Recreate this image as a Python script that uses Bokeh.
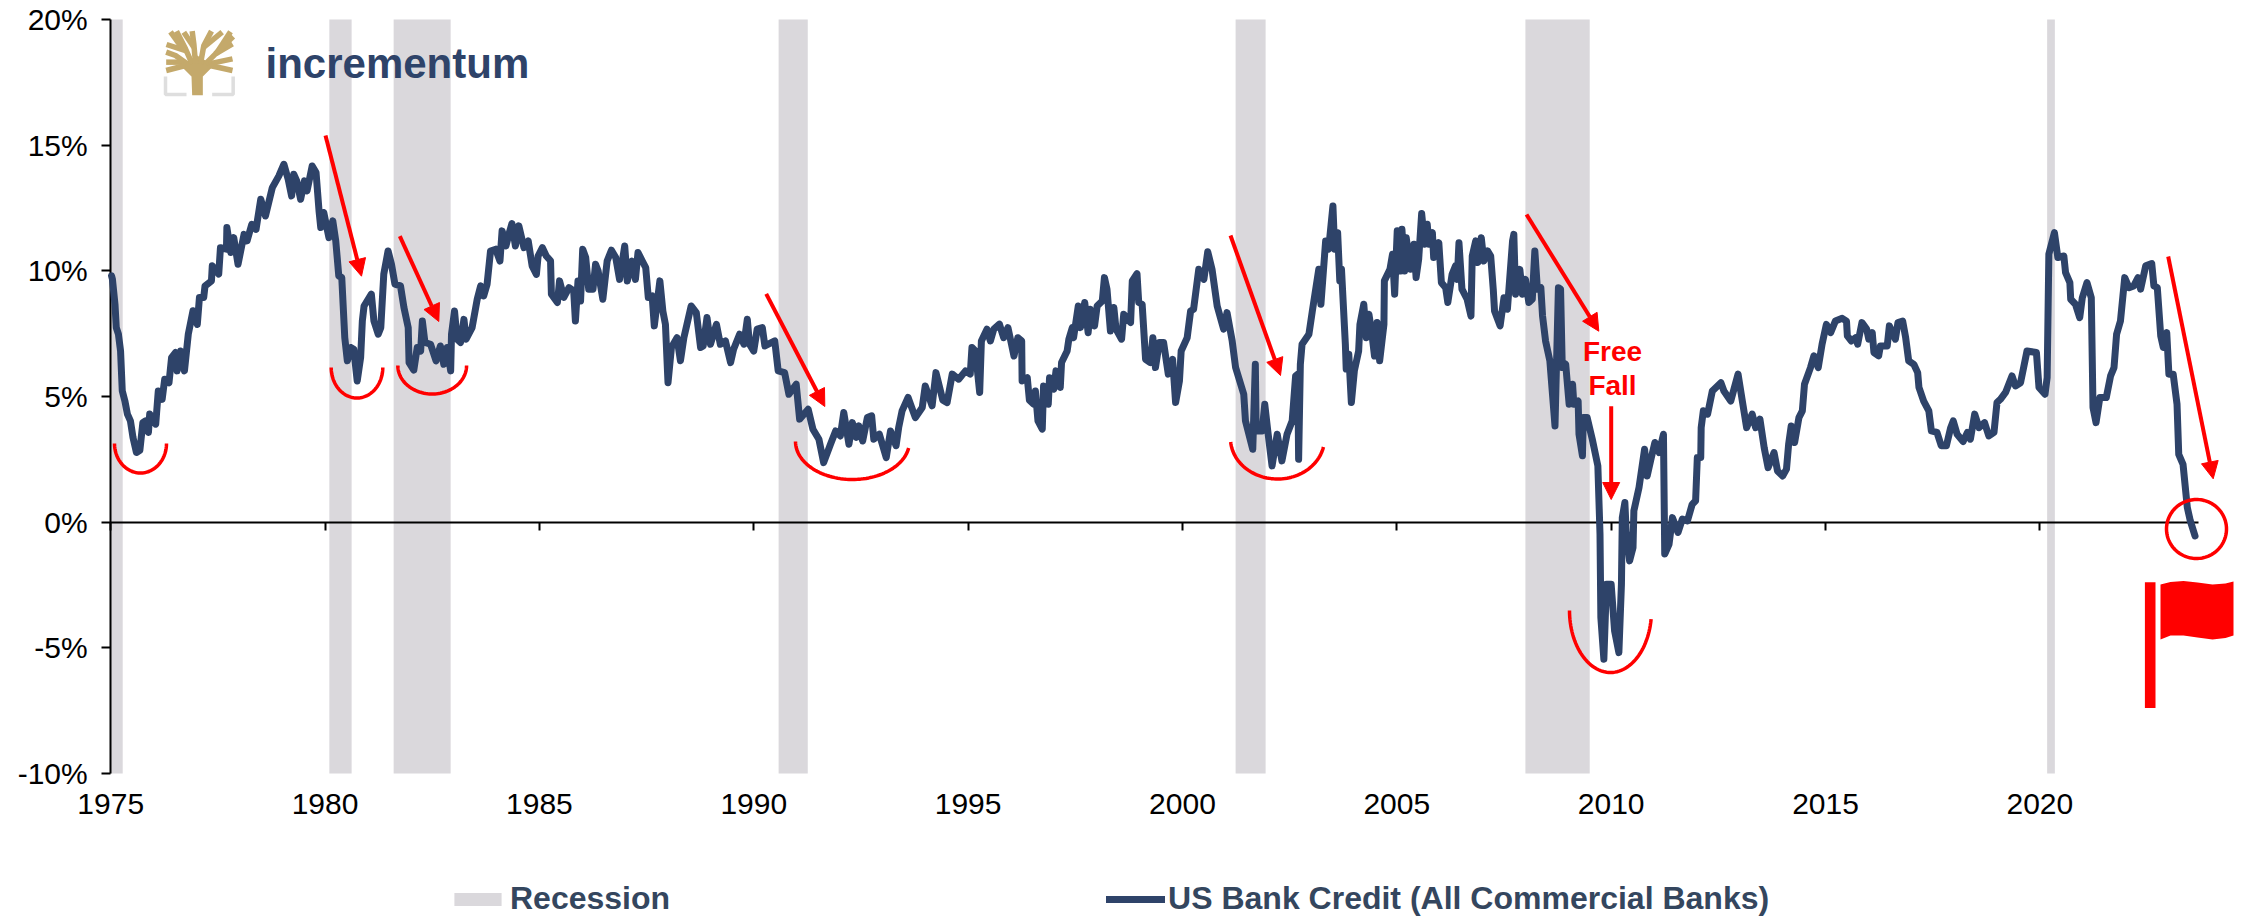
import numpy as np
from bokeh.core.properties import value
from bokeh.embed import file_html
from bokeh.models import (Arrow, CustomJSTickFormatter, FixedTicker, Legend, LegendItem,
                          LinearAxis, NormalHead, Range1d)
from bokeh.plotting import figure
from bokeh.resources import INLINE

x_ticks = [1975, 1980, 1985, 1990, 1995, 2000, 2005, 2010, 2015, 2020]
y_ticks = [-10, -5, 0, 5, 10, 15, 20]

recession_start = [1975.0, 1980.10, 1981.60, 1990.58, 2001.24, 2008.00, 2020.17]
recession_end = [1975.28, 1980.62, 1982.93, 1991.26, 2001.94, 2009.50, 2020.35]

credit_years_1 = [
    1975.02, 1975.04, 1975.10, 1975.13, 1975.18, 1975.23, 1975.27, 1975.33, 1975.39, 1975.46, 1975.52, 1975.60,
    1975.68, 1975.75, 1975.81, 1975.88, 1975.91, 1976.05, 1976.11, 1976.20, 1976.26, 1976.36, 1976.42, 1976.51,
    1976.55, 1976.63, 1976.72, 1976.81, 1976.92, 1977.02, 1977.07, 1977.17, 1977.20, 1977.35, 1977.37, 1977.52,
    1977.56, 1977.70, 1977.71, 1977.80, 1977.87, 1977.97, 1978.11, 1978.18, 1978.29, 1978.39, 1978.50, 1978.61,
    1978.77, 1978.92, 1979.04, 1979.14, 1979.22, 1979.27, 1979.34, 1979.43, 1979.52, 1979.58, 1979.70, 1979.79,
    1979.86, 1979.90, 1979.97, 1980.09, 1980.18, 1980.25, 1980.32, 1980.39, 1980.46, 1980.52, 1980.60, 1980.67,
    1980.75, 1980.83, 1980.87, 1980.91, 1981.08, 1981.14, 1981.24, 1981.30, 1981.37, 1981.47, 1981.55, 1981.63,
    1981.76, 1981.84, 1981.94, 1981.96, 1982.07, 1982.15, 1982.23]
credit_values_1 = [
    9.80, 9.67, 8.67, 7.74, 7.48, 6.81, 5.22, 4.83, 4.30, 4.03, 3.37, 2.77,
    2.86, 3.96, 4.03, 3.57, 4.30, 3.90, 5.22, 4.89, 5.69, 5.55, 6.55, 6.75,
    6.02, 6.81, 6.02, 7.48, 8.41, 7.87, 8.94, 8.94, 9.40, 9.60, 10.20, 9.87,
    10.92, 10.86, 11.72, 10.73, 11.32, 10.26, 11.45, 11.19, 11.85, 11.65, 12.85, 12.18,
    13.31, 13.77, 14.24, 13.64, 12.98, 13.84, 13.58, 12.85, 13.58, 13.18, 14.17, 13.91,
    12.38, 11.72, 12.32, 11.32, 11.99, 11.19, 9.80, 9.73, 7.34, 6.42, 6.95, 6.88,
    5.62, 6.55, 8.01, 8.60, 9.07, 8.01, 7.48, 7.74, 9.87, 10.79, 10.26, 9.47,
    9.40, 8.54, 7.74, 6.35, 6.05, 6.95, 6.81]

credit_years_2 = [
    1982.27, 1982.33, 1982.46, 1982.59, 1982.69, 1982.77, 1982.85, 1982.93, 1982.95, 1983.02, 1983.08, 1983.16,
    1983.24, 1983.29, 1983.43, 1983.55, 1983.63, 1983.70, 1983.78, 1983.86, 1983.98, 1984.08, 1984.13, 1984.22,
    1984.31, 1984.36, 1984.44, 1984.52, 1984.64, 1984.74, 1984.83, 1984.93, 1984.97, 1985.07, 1985.16, 1985.26,
    1985.28, 1985.42, 1985.47, 1985.57, 1985.69, 1985.80, 1985.84, 1985.90, 1985.96, 1986.01, 1986.08, 1986.15,
    1986.25, 1986.31, 1986.37, 1986.48, 1986.58, 1986.68, 1986.78, 1986.87, 1986.99, 1987.05, 1987.16, 1987.24,
    1987.30, 1987.40, 1987.48, 1987.54, 1987.63, 1987.68, 1987.81, 1987.88, 1987.94, 1988.00, 1988.08, 1988.21,
    1988.29, 1988.37, 1988.54, 1988.66, 1988.76, 1988.82, 1988.91, 1988.99, 1989.13, 1989.22, 1989.34]
credit_values_2 = [
    8.00, 7.15, 7.08, 6.42, 7.01, 6.28, 6.95, 6.02, 7.48, 8.40, 7.28, 7.15,
    8.07, 7.28, 7.74, 8.87, 9.40, 9.00, 9.47, 10.79, 10.86, 10.39, 11.59, 10.99,
    11.59, 11.88, 10.99, 11.79, 10.92, 11.19, 10.20, 9.86, 10.59, 10.92, 10.59, 10.40,
    9.07, 8.74, 9.60, 8.94, 9.33, 9.20, 8.00, 9.60, 8.80, 10.86, 10.53, 9.27,
    9.27, 10.26, 9.99, 8.87, 10.39, 10.82, 10.53, 9.66, 10.99, 9.60, 10.39, 9.66,
    10.73, 10.39, 10.13, 8.94, 9.00, 7.81, 9.60, 8.40, 7.87, 5.55, 6.95, 7.34,
    6.42, 7.34, 8.60, 8.34, 6.95, 7.01, 8.14, 7.08, 7.87, 7.08, 7.21]

credit_years_3 = [
    1989.46, 1989.53, 1989.67, 1989.77, 1989.85, 1989.90, 1990.00, 1990.08, 1990.20, 1990.26, 1990.49, 1990.57,
    1990.72, 1990.82, 1990.99, 1991.07, 1991.27, 1991.38, 1991.52, 1991.63, 1991.79, 1991.91, 1992.02, 1992.10,
    1992.22, 1992.30, 1992.39, 1992.45, 1992.54, 1992.65, 1992.75, 1992.80, 1992.93, 1993.09, 1993.19, 1993.32,
    1993.38, 1993.46, 1993.60, 1993.77, 1993.93, 1994.00, 1994.16, 1994.25, 1994.41, 1994.51, 1994.63, 1994.78,
    1994.94, 1995.05, 1995.09, 1995.17, 1995.27, 1995.31, 1995.44, 1995.52, 1995.60, 1995.73, 1995.83, 1995.93,
    1996.07, 1996.16, 1996.25, 1996.26, 1996.38, 1996.43, 1996.53]
credit_values_3 = [
    6.35, 6.88, 7.48, 7.08, 8.07, 7.08, 6.81, 7.68, 7.74, 7.01, 7.21, 6.02,
    5.95, 5.09, 5.49, 4.10, 4.49, 3.70, 3.30, 2.37, 3.10, 3.63, 3.43, 4.36,
    3.10, 3.96, 3.37, 3.83, 3.23, 4.16, 4.23, 3.30, 3.50, 2.57, 3.63, 3.04,
    3.76, 4.43, 4.96, 4.16, 4.56, 5.42, 4.63, 5.95, 4.85, 4.76, 5.89, 5.69,
    6.02, 5.89, 6.95, 6.81, 5.16, 7.21, 7.68, 7.21, 7.68, 7.88, 7.34, 7.74,
    6.61, 7.34, 7.21, 5.62, 5.75, 4.85, 4.69]

credit_years_4 = [
    1996.57, 1996.63, 1996.73, 1996.76, 1996.87, 1996.90, 1997.00, 1997.05, 1997.15, 1997.18, 1997.31, 1997.35,
    1997.43, 1997.46, 1997.57, 1997.62, 1997.72, 1997.80, 1997.85, 1997.95, 1998.01, 1998.13, 1998.18, 1998.24,
    1998.32, 1998.40, 1998.45, 1998.58, 1998.63, 1998.79, 1998.83, 1998.94, 1998.98, 1999.06, 1999.14, 1999.25,
    1999.31, 1999.37, 1999.46, 1999.56, 1999.67, 1999.77, 1999.84, 1999.93, 1999.97, 2000.11, 2000.19, 2000.26,
    2000.38, 2000.50, 2000.59, 2000.69, 2000.81, 2000.96, 2001.04, 2001.16, 2001.24, 2001.43, 2001.47, 2001.64,
    2001.70, 2001.72, 2001.86, 2001.92, 2001.99, 2002.09, 2002.21, 2002.32, 2002.44, 2002.56, 2002.64, 2002.69,
    2002.71]
credit_values_4 = [
    5.22, 4.03, 3.70, 5.42, 4.69, 5.75, 5.29, 6.02, 5.36, 6.35, 6.81, 7.28,
    7.74, 7.34, 8.60, 7.74, 8.74, 7.54, 8.47, 7.81, 8.60, 8.80, 9.73, 9.27,
    7.61, 8.54, 7.68, 7.28, 8.27, 7.94, 9.60, 9.89, 8.74, 8.67, 6.48, 6.35,
    7.34, 6.15, 7.15, 7.15, 5.89, 6.48, 4.76, 5.62, 6.81, 7.34, 8.40, 8.47,
    10.06, 9.66, 10.76, 10.06, 8.60, 7.68, 8.34, 7.21, 6.15, 5.09, 4.03, 2.90,
    6.28, 3.63, 3.63, 4.69, 3.63, 2.24, 3.50, 2.44, 3.50, 4.03, 5.82, 5.89,
    2.50]

credit_years_5 = [
    2002.75, 2002.79, 2002.95, 2003.03, 2003.18, 2003.23, 2003.34, 2003.41, 2003.51, 2003.55, 2003.62, 2003.67,
    2003.71, 2003.80, 2003.82, 2003.88, 2003.94, 2004.01, 2004.11, 2004.14, 2004.23, 2004.29, 2004.35, 2004.42,
    2004.48, 2004.54, 2004.60, 2004.70, 2004.71, 2004.84, 2004.90, 2004.95, 2005.01, 2005.09, 2005.12, 2005.18,
    2005.22, 2005.32, 2005.40, 2005.45, 2005.51, 2005.58, 2005.65, 2005.71, 2005.75, 2005.83, 2005.86, 2005.98,
    2006.04, 2006.14, 2006.19, 2006.29, 2006.37, 2006.41, 2006.45, 2006.52, 2006.64, 2006.73, 2006.76, 2006.84,
    2006.89, 2006.97, 2007.03, 2007.12]
credit_values_5 = [
    6.28, 7.08, 7.48, 8.40, 10.06, 8.67, 11.19, 10.86, 12.58, 10.86, 11.52, 9.60,
    10.06, 7.08, 6.09, 6.68, 4.76, 6.02, 6.81, 7.87, 8.67, 7.34, 8.27, 7.48,
    6.61, 7.94, 6.42, 7.87, 9.60, 10.06, 10.66, 9.07, 11.59, 9.99, 11.65, 9.99,
    11.32, 10.06, 11.06, 9.73, 10.46, 12.28, 11.06, 11.85, 11.06, 11.52, 10.53, 11.12,
    9.53, 9.33, 8.74, 9.86, 10.20, 9.66, 11.12, 9.27, 8.87, 8.20, 10.59, 11.19,
    10.33, 11.32, 10.39, 10.79]

credit_years_6 = [
    2007.19, 2007.25, 2007.28, 2007.41, 2007.50, 2007.58, 2007.70, 2007.73, 2007.77, 2007.87, 2007.93, 2008.00,
    2008.08, 2008.16, 2008.22, 2008.28, 2008.36, 2008.40, 2008.47, 2008.57, 2008.69, 2008.77, 2008.82, 2008.86,
    2008.94, 2009.02, 2009.10, 2009.13, 2009.23, 2009.25, 2009.33, 2009.35, 2009.44, 2009.56, 2009.69, 2009.74,
    2009.76, 2009.83, 2009.89, 2010.00, 2010.08, 2010.18, 2010.24, 2010.26, 2010.32, 2010.35, 2010.43, 2010.51,
    2010.53, 2010.65, 2010.78, 2010.84, 2010.92, 2011.02, 2011.12, 2011.22, 2011.25, 2011.35, 2011.43, 2011.56,
    2011.66, 2011.78, 2011.89, 2011.97, 2012.01, 2012.09, 2012.10, 2012.15, 2012.25, 2012.36, 2012.56, 2012.63,
    2012.79, 2012.96, 2013.06, 2013.16, 2013.29, 2013.37, 2013.47, 2013.57, 2013.66, 2013.80, 2013.88, 2014.00]
credit_values_6 = [
    10.59, 9.27, 8.40, 7.81, 8.93, 8.47, 11.19, 11.45, 9.07, 10.06, 9.07, 9.66,
    8.74, 8.87, 10.79, 9.27, 9.33, 8.20, 7.21, 6.42, 3.83, 9.33, 9.27, 6.15,
    6.28, 4.69, 5.49, 4.69, 4.82, 3.50, 2.64, 4.16, 4.16, 3.30, 2.24, -0.48,
    -3.79, -5.45, -2.47, -2.47, -4.32, -5.19, -2.47, 0.18, 0.78, -0.35, -1.54, -1.01,
    0.45, 1.38, 2.90, 1.84, 2.44, 3.17, 2.77, 3.50, -1.27, -0.88, 0.18, -0.41,
    0.12, 0.05, 0.71, 0.85, 2.57, 2.57, 3.76, 4.43, 4.30, 5.22, 5.55, 5.22,
    4.82, 5.89, 4.82, 3.76, 4.30, 3.76, 4.10, 2.96, 2.17, 2.77, 2.04, 1.84]

credit_years_7 = [
    2014.09, 2014.14, 2014.20, 2014.28, 2014.38, 2014.46, 2014.51, 2014.65, 2014.73, 2014.83, 2014.92, 2015.02,
    2015.12, 2015.23, 2015.39, 2015.49, 2015.51, 2015.60, 2015.70, 2015.75, 2015.85, 2015.96, 2016.01, 2016.09,
    2016.13, 2016.24, 2016.28, 2016.44, 2016.49, 2016.63, 2016.69, 2016.80, 2016.87, 2016.94, 2017.06, 2017.15,
    2017.18, 2017.29, 2017.41, 2017.47, 2017.60, 2017.70, 2017.82, 2017.92, 2017.98, 2018.07, 2018.21, 2018.31,
    2018.38, 2018.48, 2018.58, 2018.71, 2018.81, 2018.93, 2019.00, 2019.08, 2019.20, 2019.35, 2019.43, 2019.55,
    2019.70, 2019.92, 2019.98, 2020.12, 2020.17, 2020.21, 2020.34, 2020.42, 2020.56, 2020.60, 2020.70, 2020.72,
    2020.83, 2020.93, 2020.99, 2021.10, 2021.20, 2021.24, 2021.31, 2021.40, 2021.55, 2021.65, 2021.73, 2021.79,
    2021.88, 2021.98, 2022.08, 2022.19, 2022.29, 2022.35, 2022.47, 2022.61, 2022.66, 2022.74, 2022.82, 2022.88,
    2022.96, 2023.01, 2023.11, 2023.20, 2023.24, 2023.34, 2023.44, 2023.51, 2023.62]
credit_values_7 = [
    2.11, 3.10, 3.83, 3.17, 4.16, 4.43, 5.49, 6.15, 6.62, 6.15, 7.08, 7.87,
    7.54, 8.00, 8.11, 8.00, 7.41, 7.21, 7.34, 7.08, 7.94, 7.68, 7.28, 7.54,
    6.75, 6.62, 7.01, 7.01, 7.81, 7.28, 7.94, 8.00, 7.34, 6.42, 6.28, 5.95,
    5.36, 4.82, 4.43, 3.63, 3.57, 3.04, 3.04, 3.76, 4.03, 3.50, 3.21, 3.57,
    3.30, 4.30, 3.76, 3.96, 3.43, 3.57, 4.76, 4.89, 5.16, 5.82, 5.42, 5.55,
    6.81, 6.75, 5.36, 5.09, 5.75, 10.66, 11.52, 10.53, 10.59, 9.93, 9.53, 8.87,
    8.67, 8.14, 8.93, 9.53, 8.93, 4.56, 3.96, 4.96, 4.96, 5.82, 6.15, 7.48,
    8.00, 9.73, 9.33, 9.40, 9.73, 9.27, 10.20, 10.29, 9.40, 9.33, 7.41, 6.95,
    7.54, 5.89, 5.89, 4.69, 2.70, 2.30, 0.58, 0.05, -0.55]

credit_years = (credit_years_1 + credit_years_2 + credit_years_3 + credit_years_4
                + credit_years_5 + credit_years_6 + credit_years_7)
credit_values = (credit_values_1 + credit_values_2 + credit_values_3 + credit_values_4
                 + credit_values_5 + credit_values_6 + credit_values_7)

NAVY = "#2E4369"
RED = "#FF0000"
GOLD = "#C4A96B"
GREY = "#DAD8DC"
FONT = "Liberation Sans"

# the frame fills the page, wider than the axes, so that axis labels are not clipped
PAGE_W, PAGE_H = 2246, 917
AXIS_TOP, AXIS_BOTTOM = 19, 773
X0 = 1975 - 110.2 / 42.87
X1 = 1975 + (PAGE_W - 110.2) / 42.87


def dx(px):
    """annotation helper: page pixel to year"""
    return X0 + px * (X1 - X0) / PAGE_W


def dy(py):
    """annotation helper: page pixel to percent"""
    return 20 - (py - AXIS_TOP) * 30 / (AXIS_BOTTOM - AXIS_TOP)


p = figure(width=PAGE_W, height=PAGE_H, output_backend="svg", toolbar_location=None,
           x_range=Range1d(X0, X1), y_range=Range1d(dy(PAGE_H), dy(0)),
           frame_width=PAGE_W, frame_height=PAGE_H,
           min_border_left=0, min_border_top=0, min_border_right=0, min_border_bottom=0,
           outline_line_color=None, background_fill_color="white", border_fill_color="white")
p.grid.visible = False

# axes
ax = p.xaxis[0]
ax.fixed_location = -10
ax.ticker = FixedTicker(ticks=x_ticks)
ax.axis_line_color = None
ax.major_tick_line_color = None
ax.minor_tick_line_color = None
ax.major_label_standoff = 14
ax.major_label_text_font = FONT
ax.major_label_text_font_size = "30px"
ax.major_label_text_color = "black"

zero_axis = LinearAxis(fixed_location=0, ticker=FixedTicker(ticks=x_ticks), bounds=(1975, 2023.7),
                       axis_line_color="black", axis_line_width=2,
                       major_tick_line_color="black", major_tick_line_width=2,
                       major_tick_in=0, major_tick_out=8, minor_tick_line_color=None,
                       formatter=CustomJSTickFormatter(code="return ''"), major_label_text_font_size="1px")
p.add_layout(zero_axis, "below")

ay = p.yaxis[0]
ay.fixed_location = 1975
ay.ticker = FixedTicker(ticks=y_ticks)
ay.bounds = (-10, 20)
ay.major_label_overrides = {t: f"{t}%" for t in y_ticks}
ay.axis_line_color = "black"
ay.axis_line_width = 2
ay.major_tick_line_color = "black"
ay.major_tick_line_width = 2
ay.major_tick_in = 0
ay.major_tick_out = 9
ay.minor_tick_line_color = None
ay.major_label_standoff = 14
ay.major_label_text_font = FONT
ay.major_label_text_font_size = "30px"
ay.major_label_text_color = "black"

# recessions
rec = p.quad(left=recession_start, right=recession_end, bottom=-10, top=20, fill_color=GREY, line_color=None)

# series, above the zero line
line = p.line(credit_years, credit_values, line_color=NAVY, line_width=7, line_join="round", line_cap="round",
              level="annotation")

# red arcs, in page-pixel terms: cx, cy, rx, ry, start and end angle below the centre
arcs = [(140, 443, 26, 29.5, 180, 0), (356.5, 367, 25.8, 30.5, 180, 0), (431.7, 365, 34.4, 28.5, 180, 0),
        (852, 441, 57, 38, 180, 10), (1277, 438, 47, 40.5, 175, 12), (1610, 610, 41, 62, 180, 8)]
for cx, cy, rx, ry, a0, a1 in arcs:
    t = np.radians(np.linspace(a0, a1, 60))
    p.line(dx(cx + rx * np.cos(t)), dy(cy + ry * np.sin(t)), line_color=RED, line_width=3.5, level="annotation")

# red ring around the last value
t = np.radians(np.linspace(0, 360, 120))
p.line(dx(2196 + 30 * np.cos(t)), dy(528.5 + 29.5 * np.sin(t)), line_color=RED, line_width=3.5, level="annotation")

# red arrows
arrows = [(325, 135, 361, 275.7), (399.3, 235.7, 438.3, 321), (765.7, 293.3, 824.3, 406), (1230, 235, 1280, 375),
          (1526, 214, 1598.3, 330.7), (1610.7, 405.7, 1610.7, 499), (2167.7, 256, 2212.7, 478.3)]
for x0, y0, x1, y1 in arrows:
    p.add_layout(Arrow(end=NormalHead(size=17, fill_color=RED, line_color=RED, line_width=1),
                       x_start=dx(x0), y_start=dy(y0), x_end=dx(x1), y_end=dy(y1),
                       line_color=RED, line_width=4))

# Free Fall label
p.text(x=[dx(1612), dx(1612)], y=[dy(351), dy(385)], text=["Free", "Fall"], text_color=RED,
       text_font=value(FONT), text_font_style="bold", text_font_size="28px",
       text_align="center", text_baseline="middle", level="annotation")

# red flag
p.patch(dx(np.array([2144.4, 2155, 2155, 2144.4])), dy(np.array([581.7, 581.7, 707.6, 707.6])),
        fill_color=RED, line_color=None, level="annotation")
flag_x = np.array([2160, 2170, 2183, 2197, 2212, 2225, 2233, 2233, 2225, 2212, 2197, 2183, 2170, 2160])
flag_y = np.array([584, 581.5, 580.5, 582, 584, 583, 581, 635, 637.5, 639, 637, 635, 635, 639])
p.patch(dx(flag_x), dy(flag_y), fill_color=RED, line_color=None, level="annotation")

# logo: wordmark
p.text(x=[dx(265)], y=[dy(63)], text=["incrementum"], text_color=NAVY, text_font=value(FONT),
       text_font_style="bold", text_font_size="42px", text_align="left", text_baseline="middle",
       level="annotation")


def lz(pts):
    return [dx(150 + a / 3) for a, b in pts], [dy(20 + b / 3) for a, b in pts]


# logo: tree
for pts in ([(45, 168), (45, 222), (108, 222)], [(248, 168), (248, 222), (185, 222)]):
    xs, ys = lz(pts)
    p.line(xs, ys, line_color="#DEDEDE", line_width=3.5, level="annotation")
xs, ys = lz([(125, 224), (157, 224), (157, 168), (190, 135), (140, 105), (90, 135), (123, 168)])
p.patch(xs, ys, fill_color=GOLD, line_color=None, level="annotation")
branches = [
    [(125, 130), (105, 85), (78, 32)], [(110, 92), (48, 72)], [(135, 130), (130, 70), (125, 32)],
    [(130, 80), (100, 35)], [(150, 130), (160, 75), (183, 32)], [(160, 80), (215, 35)],
    [(165, 130), (195, 100), (246, 70)], [(197, 100), (240, 34)], [(175, 130), (246, 115)],
    [(110, 130), (75, 105), (47, 95)], [(100, 125), (47, 125)], [(178, 135), (246, 150)],
    [(105, 135), (47, 150)], [(100, 90), (60, 34)], [(195, 100), (248, 48)],
]
for pts in branches:
    xs, ys = lz(pts)
    p.line(xs, ys, line_color=GOLD, line_width=5.5, level="annotation")

# legend
legend = Legend(items=[LegendItem(label="Recession", renderers=[rec]),
                       LegendItem(label="US Bank Credit (All Commercial Banks)", renderers=[line])],
                orientation="horizontal", location=(448, 0),
                border_line_color=None, background_fill_alpha=0, margin=0, padding=0,
                glyph_width=59, glyph_height=16, label_standoff=3, spacing=436,
                label_text_font=FONT, label_text_font_style="bold", label_text_font_size="32px",
                label_text_color="#34465E")
p.add_layout(legend, "center")

with open("out.html", "w") as f:
    f.write(file_html(p, INLINE))
